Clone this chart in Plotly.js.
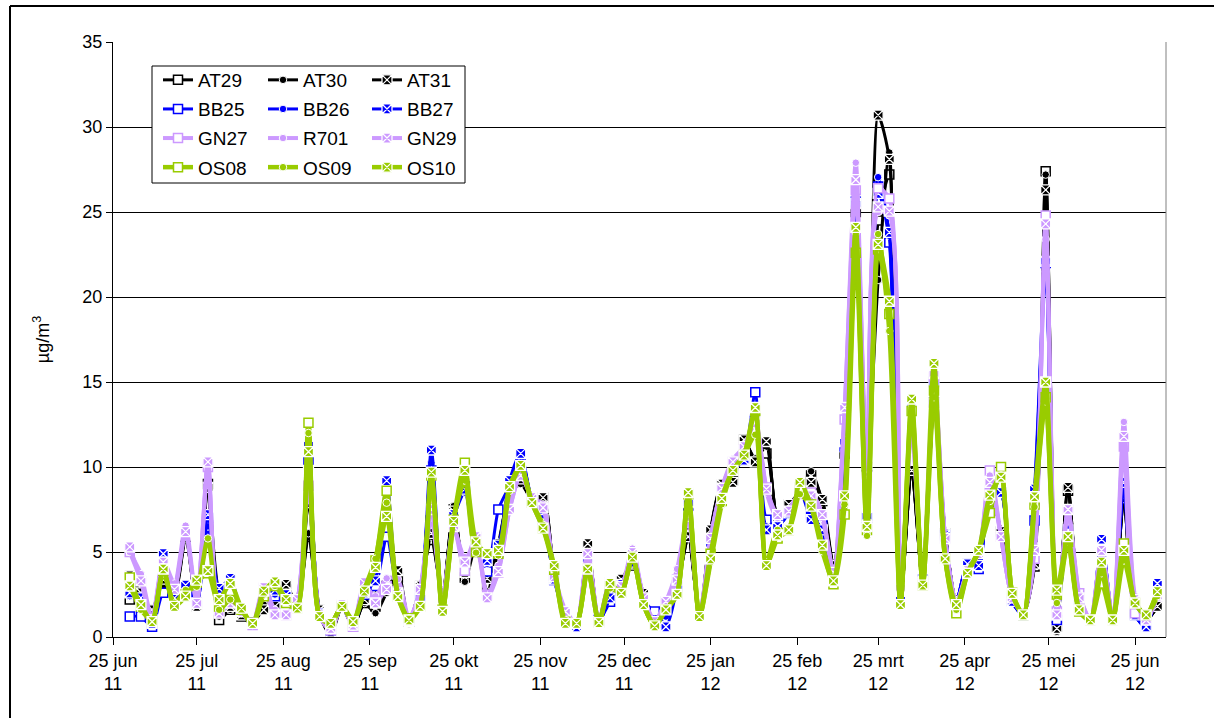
<!DOCTYPE html>
<html>
<head>
<meta charset="utf-8">
<script src="https://cdn.plot.ly/plotly-3.0.1.min.js"></script>
<style>html,body{margin:0;padding:0;background:#fff;}#chart{width:1214px;height:718px;}</style>
</head>
<body>
<div id="chart"></div>
<script>
const dates = [
 '2011-07-01','2011-07-05','2011-07-09','2011-07-13','2011-07-17','2011-07-21','2011-07-25','2011-07-29',
 '2011-08-02','2011-08-06','2011-08-10','2011-08-14','2011-08-18','2011-08-22','2011-08-26','2011-08-30',
 '2011-09-03','2011-09-07','2011-09-11','2011-09-15','2011-09-19','2011-09-23','2011-09-27',
 '2011-10-01','2011-10-05','2011-10-09','2011-10-13','2011-10-17','2011-10-21','2011-10-25','2011-10-29',
 '2011-11-02','2011-11-06','2011-11-10','2011-11-14','2011-11-18','2011-11-22','2011-11-26','2011-11-30',
 '2011-12-04','2011-12-08','2011-12-12','2011-12-16','2011-12-20','2011-12-24','2011-12-28',
 '2012-01-01','2012-01-05','2012-01-09','2012-01-13','2012-01-17','2012-01-21','2012-01-25','2012-01-29',
 '2012-02-02','2012-02-06','2012-02-10','2012-02-14','2012-02-18','2012-02-22','2012-02-26',
 '2012-03-01','2012-03-05','2012-03-09','2012-03-13','2012-03-17','2012-03-21','2012-03-25','2012-03-29',
 '2012-04-02','2012-04-06','2012-04-10','2012-04-14','2012-04-18','2012-04-22','2012-04-26','2012-04-30',
 '2012-05-04','2012-05-08','2012-05-12','2012-05-16','2012-05-20','2012-05-24','2012-05-28',
 '2012-06-01','2012-06-05','2012-06-09','2012-06-13','2012-06-17','2012-06-21','2012-06-25','2012-06-29',
 '2012-07-03'
];

const AT29 = [2.2,2.4,1.5,2.8,2.6,5.9,1.8,9.0,1.0,1.6, 1.2,0.8,1.9,1.8,2.8,1.9,5.9,1.3,0.1,1.8,
 0.6,2.0,1.8,3.0,3.5,0.9,3.0,5.7,2.5,7.5, 3.5,5.5,3.0,5.0,8.5,9.2,8.0,8.2,3.6,1.2,
 0.7,5.3,1.0,2.8,3.3,4.2,2.5,1.0,1.9,3.0, 6.1,1.2,6.2,8.9,9.2,11.6,10.4,10.8,7.0,7.8,
 8.5,9.5,8.0,4.2,10.8,25.0,10.0,24.5,27.2,2.0, 9.8,3.1,13.8,6.1,2.2,3.9,4.8,8.5,6.2,2.3,
 1.4,4.15,27.4,0.6,8.6,2.2,1.0,4.0,1.1,8.2, 1.5,1.0,1.8];
const AT30 = [2.5,2.2,1.3,3.0,2.5,5.8,1.9,9.0,1.2,1.6, 1.3,0.8,1.9,1.7,2.76,2.0,6.1,1.3,0.2,1.8,
 0.6,2.0,1.4,2.6,3.4,0.8,2.8,5.9,2.4,7.7, 3.25,5.4,2.67,5.3,8.4,9.0,8.1,8.0,3.7,1.3,
 0.7,5.4,1.0,2.8,3.3,4.3,2.5,1.0,1.9,3.0, 5.9,1.2,6.2,9.0,9.2,11.5,10.5,11.2,7.0,7.6,
 8.5,9.75,7.9,4.2,11.0,25.2,10.1,21.0,28.5,2.0, 9.9,3.1,13.7,6.1,2.2,3.9,4.8,8.5,6.2,2.3,
 1.4,4.3,27.2,0.3,8.8,2.2,1.0,4.0,1.1,8.2, 1.5,1.0,1.8];
const AT31 = [3.6,2.6,1.6,3.4,2.7,6.0,1.8,8.8,2.6,1.8, 1.3,0.9,1.6,1.8,3.1,1.8,7.9,1.6,0.3,1.8,
 0.6,2.2,2.76,2.8,3.9,0.9,3.0,6.1,2.6,7.4, 3.8,5.5,3.45,5.5,8.5,9.3,8.0,8.2,3.6,1.2,
 0.7,5.5,1.0,2.9,3.4,4.3,2.57,1.0,1.9,3.0, 5.9,1.2,6.3,9.0,9.1,11.6,10.3,11.5,7.0,7.8,
 8.5,9.1,8.1,4.2,11.2,25.6,10.15,30.7,28.1,2.0, 9.8,3.1,13.75,6.1,2.2,3.9,4.8,8.5,6.2,2.3,
 1.4,4.3,26.3,0.5,8.8,2.2,1.0,4.0,1.1,8.2, 1.5,1.0,1.8];
const BB25 = [1.2,1.2,0.6,2.6,2.3,3.0,2.0,7.0,2.8,3.3, 1.5,0.8,2.5,2.4,2.4,2.0,10.4,1.4,0.4,1.8,
 0.6,2.5,3.0,5.9,2.5,1.0,2.3,9.8,2.1,7.2, 8.85,5.2,3.85,7.5,8.9,10.5,8.0,6.9,3.35,1.3,
 0.6,4.4,1.0,2.08,3.1,4.4,2.2,1.5,1.5,3.0, 7.7,1.2,5.5,8.6,9.8,10.5,14.4,6.9,6.5,7.3,
 8.6,7.2,6.6,3.6,11.2,25.6,7.0,26.5,23.2,2.2, 13.8,3.35,15.0,6.0,2.1,4.3,4.0,8.6,8.5,2.1,
 1.3,6.85,22.0,1.0,6.3,2.1,1.0,5.75,1.1,8.9, 1.3,0.6,3.15];
const BB26 = [2.4,2.1,0.7,4.7,2.4,3.0,2.2,6.5,2.5,3.0, 1.4,0.8,2.5,2.5,2.6,2.1,10.9,1.4,0.4,1.8,
 0.6,2.6,3.55,8.0,2.6,1.0,2.3,10.25,2.0,7.0, 8.5,5.2,4.3,5.2,9.0,10.6,8.1,7.0,3.45,1.4,
 0.6,4.5,0.9,2.3,3.1,4.4,2.2,0.9,1.2,3.0, 7.5,1.2,5.5,8.6,9.8,10.5,13.0,6.5,6.6,7.3,
 8.6,7.2,6.3,3.6,11.0,25.8,6.8,27.05,23.6,2.2, 13.5,3.3,14.8,6.0,2.1,4.3,4.2,8.5,8.5,2.1,
 1.3,8.4,21.5,1.5,6.3,2.1,1.0,5.4,1.1,8.85, 1.3,0.6,3.0];
const BB27 = [2.6,2.3,0.8,4.9,2.3,3.05,2.0,7.2,2.86,3.45, 1.5,0.8,2.6,2.76,2.5,2.0,11.3,1.4,0.5,1.8,
 0.6,2.6,3.3,9.2,2.5,1.0,2.3,11.0,2.1,7.2, 8.7,5.3,4.5,5.4,9.2,10.8,8.0,6.9,3.4,1.3,
 0.6,4.6,0.9,2.3,3.1,4.4,2.2,0.8,0.6,2.96, 7.9,1.2,5.5,8.6,9.8,10.4,13.35,6.3,6.5,7.3,
 8.6,6.9,6.3,3.6,11.5,25.5,7.1,26.1,23.8,2.2, 13.8,3.3,15.0,6.0,2.1,4.3,4.2,8.6,8.5,2.1,
 1.3,8.7,22.1,1.3,6.3,2.1,1.0,5.75,1.1,9.1, 1.3,0.6,3.15];
const GN27 = [5.0,3.3,1.0,4.3,3.0,6.2,2.0,10.0,1.4,2.0, 1.5,0.7,2.9,1.4,1.3,2.2,8.9,1.3,0.4,1.9,
 0.6,3.0,2.2,3.0,2.6,1.0,2.8,7.0,2.2,6.5, 3.9,5.9,2.5,3.8,7.5,9.5,8.2,7.6,3.6,1.5,
 0.8,4.9,0.9,3.2,3.0,4.9,2.3,0.9,2.1,3.4, 7.1,1.2,5.8,8.75,10.3,11.2,12.6,8.8,7.2,7.4,
 8.4,8.5,7.2,3.8,12.8,26.3,9.4,26.4,25.8,2.9, 12.3,3.2,15.3,5.8,2.0,3.9,4.9,9.8,5.9,2.3,
 1.4,4.6,24.8,1.5,7.5,2.57,1.0,5.1,1.1,11.2, 1.4,1.0,2.4];
const R701 = [5.0,3.7,1.1,4.5,3.15,6.55,2.1,10.3,1.5,2.2, 1.6,0.8,3.0,1.6,1.4,2.2,9.3,1.2,0.4,1.9,
 0.6,3.0,2.4,3.45,3.4,1.1,2.7,7.7,2.0,6.3, 4.7,5.3,2.4,4.2,7.7,9.6,8.25,7.8,3.75,1.6,
 0.8,5.0,0.9,3.25,3.0,5.2,2.3,1.0,2.1,4.0, 7.2,1.2,5.8,8.75,10.45,11.2,12.8,8.5,7.0,7.5,
 8.5,8.3,7.0,3.8,13.3,27.9,9.2,25.0,24.8,3.0, 12.5,3.2,15.2,5.8,2.0,3.9,4.9,9.5,5.9,2.3,
 1.4,5.4,23.4,1.3,7.3,2.5,1.0,5.0,1.1,12.65, 2.4,1.0,2.4];
const GN29 = [5.3,3.3,1.0,4.4,2.8,6.2,1.98,10.3,1.4,2.0, 1.5,0.8,2.9,1.3,1.3,2.2,9.8,1.3,0.5,1.9,
 0.7,3.2,2.0,2.8,2.6,1.0,2.8,7.5,2.2,6.5, 4.4,5.9,2.3,3.85,7.5,9.5,8.2,7.6,3.55,1.5,
 0.8,4.9,0.9,3.2,2.96,4.96,2.3,0.9,2.1,3.35, 7.1,1.2,5.8,8.75,10.3,11.2,12.6,8.7,7.2,7.4,
 8.4,8.3,7.2,3.8,13.5,26.9,9.4,25.3,25.05,2.9, 12.3,3.2,15.5,5.8,2.0,3.9,4.9,9.1,5.9,2.3,
 1.4,5.1,24.3,1.3,7.5,2.3,1.0,5.1,1.1,11.8, 2.2,1.0,2.4];
const OS08 = [3.5,1.8,0.9,3.9,1.9,2.5,3.2,3.75,1.8,2.7, 1.6,0.8,2.4,3.0,2.0,1.7,12.6,1.2,0.8,1.8,
 0.9,2.7,4.5,8.6,2.4,1.1,1.8,9.5,1.6,6.9, 10.25,5.0,4.9,4.9,8.8,10.0,7.9,6.4,3.95,0.9,
 0.8,4.0,0.85,3.0,2.6,4.7,1.9,0.7,1.6,2.5, 8.4,1.2,4.9,8.0,9.8,10.7,13.3,4.2,5.8,6.3,
 8.8,7.8,5.4,3.1,7.2,22.6,6.3,22.8,19.0,1.9, 13.3,3.05,14.5,4.6,1.4,3.75,5.1,7.3,10.0,2.6,
 1.3,7.8,14.1,2.5,5.6,1.5,1.0,3.15,1.0,5.5, 2.0,1.3,2.67];
const OS09 = [3.1,1.6,1.0,3.75,2.0,2.76,2.96,5.8,1.6,2.2, 1.6,0.7,2.5,3.0,2.2,1.8,12.0,1.2,0.8,1.8,
 1.0,2.8,4.6,7.9,2.5,1.1,1.9,9.3,1.5,7.0, 9.2,4.96,4.8,4.8,8.6,10.0,7.9,6.6,4.0,1.0,
 0.8,4.1,0.9,2.86,2.6,4.7,1.9,0.7,1.6,2.5, 8.15,1.2,4.4,7.8,9.8,10.7,11.9,4.4,6.3,6.3,
 8.4,7.6,5.05,3.3,7.8,23.8,5.95,23.7,18.0,1.9, 13.7,3.05,14.1,4.6,1.6,3.75,5.0,8.0,9.5,2.6,
 1.3,7.65,13.85,2.0,5.6,1.6,1.0,3.75,1.0,4.5, 2.0,1.3,2.4];
const OS10 = [3.0,1.9,0.9,4.0,1.8,2.4,3.35,3.9,2.2,3.15, 1.7,0.8,2.7,3.25,2.2,1.7,10.9,1.2,0.8,1.8,
 0.9,2.7,4.1,7.1,2.37,1.0,1.8,9.7,1.5,6.8, 9.8,5.6,4.9,5.1,8.85,10.1,7.9,6.4,4.2,0.8,
 0.8,4.0,0.85,3.15,2.57,4.7,1.9,0.65,1.6,2.5, 8.5,1.2,4.6,8.15,9.8,10.7,13.5,4.2,6.0,6.3,
 9.1,7.7,5.4,3.3,8.3,24.1,6.5,23.1,19.75,1.9, 14.0,3.05,16.1,4.6,1.9,3.75,5.1,8.35,9.4,2.57,
 1.3,8.25,15.0,2.76,5.9,1.6,1.0,4.4,1.0,5.1, 2.0,1.3,2.67];

const tickDates = ['2011-06-25','2011-07-25','2011-08-25','2011-09-25','2011-10-25','2011-11-25','2011-12-25',
 '2012-01-25','2012-02-25','2012-03-25','2012-04-25','2012-05-25','2012-06-25'];
const tickMonths = ['25 jun','25 jul','25 aug','25 sep','25 okt','25 nov','25 dec','25 jan','25 feb','25 mrt','25 apr','25 mei','25 jun'];
const tickYears = ['11','11','11','11','11','11','11','12','12','12','12','12','12'];

const seriesNames = ['AT29','AT30','AT31','BB25','BB26','BB27','GN27','R701','GN29','OS08','OS09','OS10'];
const seriesValues = [AT29,AT30,AT31,BB25,BB26,BB27,GN27,R701,GN29,OS08,OS09,OS10];
const groupColors = ['#000000','#0000FF','#CC99FF','#99CC00'];
const groupWidths = [3, 3, 4, 4.5];

const FONT = 'Liberation Sans, Arial, sans-serif';

function markerFor(kind, color) {
  if (kind === 0) return {symbol:'square', size:9, color:'#ffffff', line:{color:color, width:1.5}};
  if (kind === 1) return {symbol:'circle', size:7.5, color:color, line:{color:'#ffffff', width:1}};
  return {symbol:'square-x', size:10, color:color, line:{color:'#ffffff', width:1.3}};
}

const legendIds = ['legend','legend2','legend3'];
const traces = seriesNames.map((name, i) => {
  const g = Math.floor(i / 3), kind = i % 3;
  const color = groupColors[g];
  return {
    type:'scatter', mode:'lines+markers', name:name,
    x:dates, y:seriesValues[i],
    line:{color:color, width:groupWidths[g], shape:'spline', smoothing:0.7},
    marker:markerFor(kind, color),
    legend:legendIds[kind], legendgroup:name,
    hoverinfo:'skip'
  };
});

const L = 113, R = 1166, T = 42, B = 637, W = 1214, H = 718;
const px = v => (v - L) / (R - L);
const py = v => (B - v) / (B - T);

function legendCfg(textX) {
  return {
    x: px(textX - 40), xanchor:'left', y: py(61), yanchor:'top',
    orientation:'v', bgcolor:'rgba(0,0,0,0)', borderwidth:0,
    font:{family:FONT, size:19, color:'#000'},
    tracegroupgap:1.4, traceorder:'grouped', itemwidth:30
  };
}

const layout = {
  width:W, height:H,
  margin:{l:L, r:W-R, t:T, b:H-B},
  paper_bgcolor:'#ffffff', plot_bgcolor:'#ffffff',
  font:{family:FONT, size:18, color:'#000'},
  showlegend:true,
  legend: legendCfg(198),
  legend2: legendCfg(303),
  legend3: legendCfg(407),
  xaxis:{
    type:'date', range:['2011-06-25','2012-07-06 02:00'],
    tickmode:'array', tickvals:tickDates,
    ticktext:tickMonths.map((m,i) => m + '<br>' + tickYears[i]),
    ticks:'outside', ticklen:7, tickcolor:'#000', tickwidth:1,
    showline:true, linecolor:'#000', linewidth:1,
    showgrid:false, zeroline:false,
    tickfont:{family:FONT, size:18, color:'#000'}
  },
  yaxis:{
    range:[0,35], dtick:5, tick0:0,
    ticks:'outside', ticklen:6, tickcolor:'#000', tickwidth:1,
    showline:true, linecolor:'#000', linewidth:1,
    showgrid:true, gridcolor:'#000', gridwidth:1, zeroline:false,
    tickfont:{family:FONT, size:18, color:'#000'},
    title:{text:'µg/m<sup>3</sup>', font:{family:FONT, size:18, color:'#000'}, standoff:28}
  },
  shapes:[
    {type:'line', xref:'paper', yref:'paper', x0:1, x1:1, y0:0, y1:1, line:{color:'#808080', width:1}},
    {type:'rect', xref:'paper', yref:'paper', x0:px(152), x1:px(465), y0:py(183), y1:py(66),
     fillcolor:'#ffffff', line:{color:'#000', width:1}, layer:'above'},
    {type:'line', xref:'paper', yref:'paper', x0:px(10), x1:px(10), y0:py(6), y1:py(718), line:{color:'#000', width:2}},
    {type:'line', xref:'paper', yref:'paper', x0:px(10), x1:px(1214), y0:py(6), y1:py(6), line:{color:'#000', width:2}}
  ]
};

Plotly.newPlot('chart', traces, layout, {staticPlot:true, displayModeBar:false});
</script>
</body>
</html>
